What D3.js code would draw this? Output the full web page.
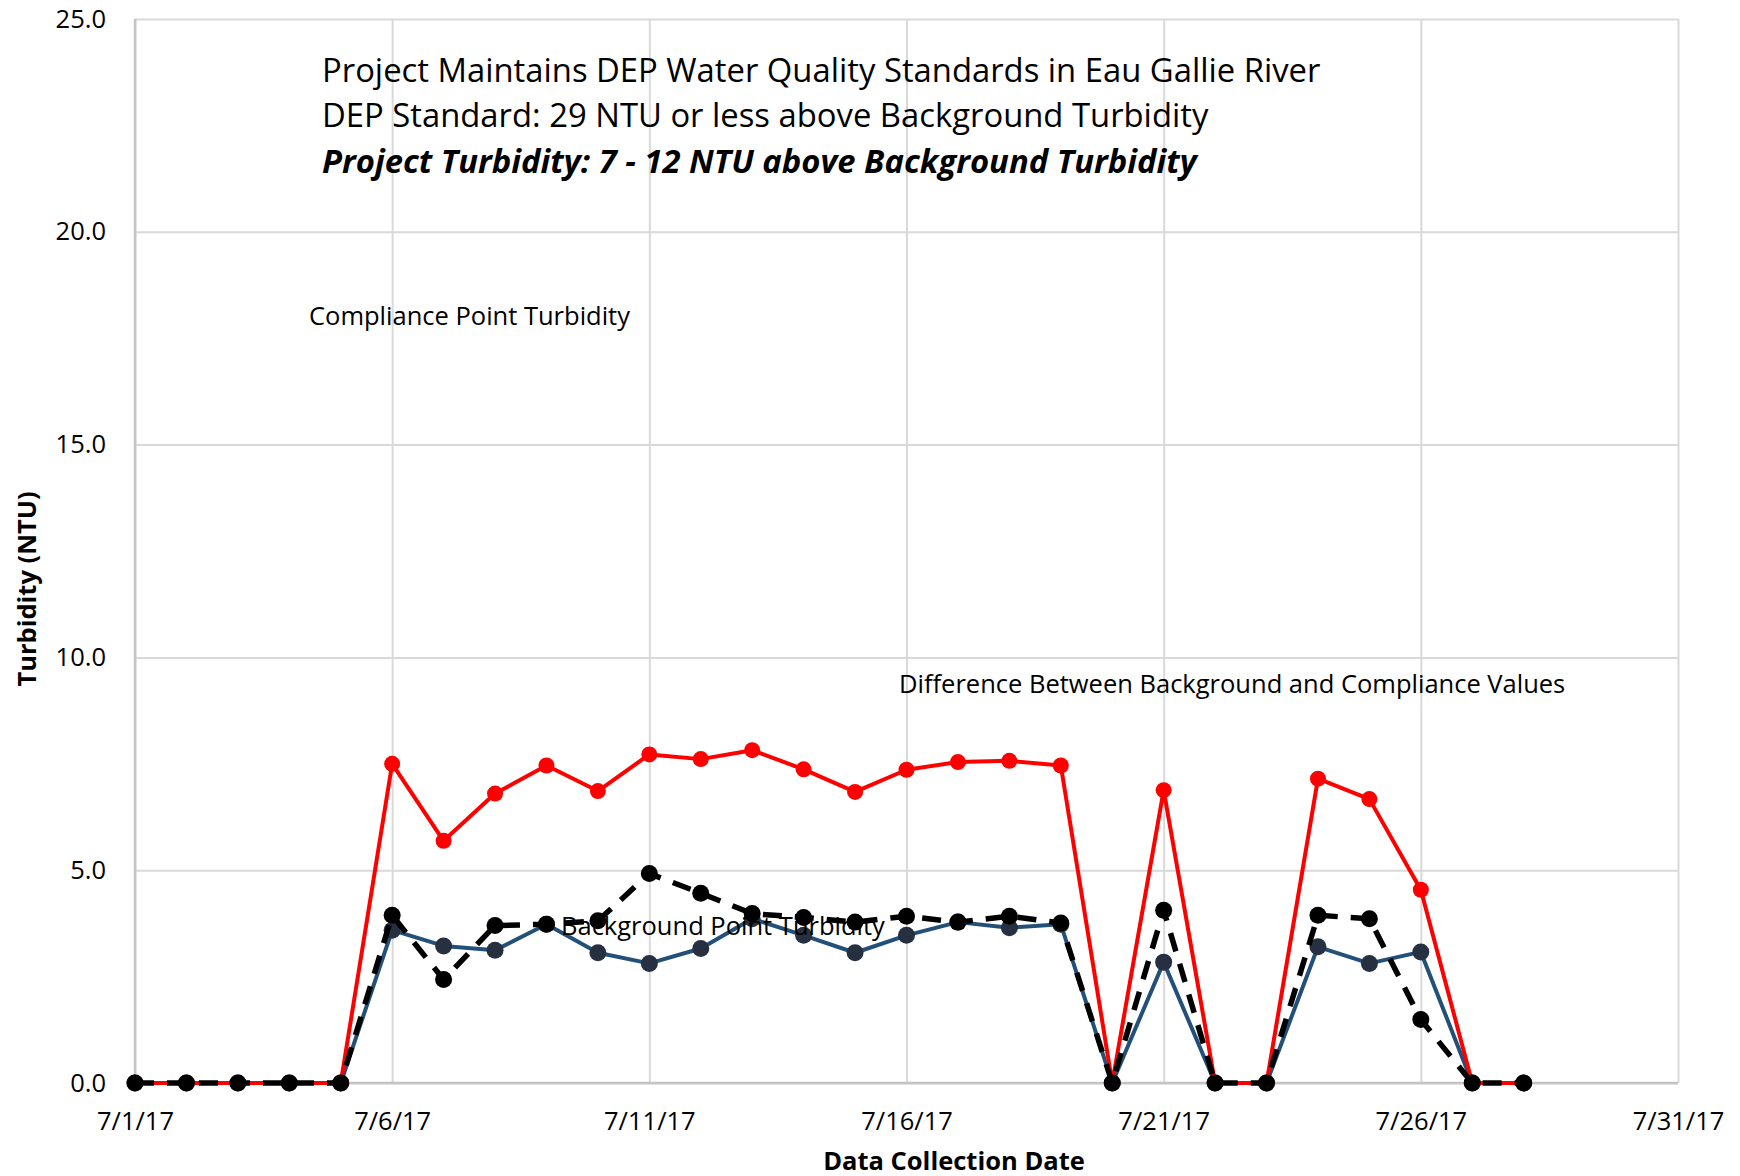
<!DOCTYPE html>
<meta charset="utf-8">
<body style="margin:0; background:#fff">
<script src="https://d3js.org/d3.v7.min.js"></script>
<div id="chart"></div>
<script>

 // sample dates (one per day)
 var dates = ["2017-07-01","2017-07-02","2017-07-03","2017-07-04","2017-07-05","2017-07-06","2017-07-07",
              "2017-07-08","2017-07-09","2017-07-10","2017-07-11","2017-07-12","2017-07-13","2017-07-14",
              "2017-07-15","2017-07-16","2017-07-17","2017-07-18","2017-07-19","2017-07-20","2017-07-21",
              "2017-07-22","2017-07-23","2017-07-24","2017-07-25","2017-07-26","2017-07-27","2017-07-28"];

 // red
 var compliance = [0,0,0,0,0,7.50,5.69,6.80,7.46,6.86,7.72,7.61,7.82,7.37,
                   6.84,7.36,7.54,7.57,7.46,0,6.88,0,0,7.15,6.67,4.54,0,0];
 // black dashed
 var background = [0,0,0,0,0,3.94,2.43,3.70,3.73,3.81,4.92,4.46,3.98,3.89,
                   3.78,3.92,3.78,3.92,3.76,0,4.06,0,0,3.94,3.86,1.49,0,0];
 // blue
 var difference = [0,0,0,0,0,3.59,3.22,3.12,3.73,3.06,2.81,3.16,3.86,3.47,
                   3.06,3.47,3.78,3.65,3.73,0,2.84,0,0,3.20,2.81,3.08,0,0];

 var yTicks = [0, 5, 10, 15, 20, 25];
 var xDomain = ["2017-07-01", "2017-07-31"];

 var titleLines = ["Project Maintains DEP Water Quality Standards in Eau Gallie River",
                   "DEP Standard: 29 NTU or less above Background Turbidity",
                   "Project Turbidity: 7 - 12 NTU above Background Turbidity"];

 var W = 1740, H = 1176;
 var margin = {top: 19, right: 62, bottom: 93, left: 135};
 var width = W - margin.left - margin.right;
 var height = H - margin.top - margin.bottom;
 var font = "'Open Sans', 'Noto Sans', sans-serif";

 var parse = d3.timeParse("%Y-%m-%d");

 var svg = d3.select("#chart").append("svg")
             .attr("width", W)
             .attr("height", H)
             .attr("font-family", font);

 var g = svg.append("g")
            .attr("transform", "translate(" + margin.left + "," + margin.top + ")");

 var x = d3.scaleTime()
           .domain(xDomain.map(parse))
           .range([0, width]);

 var y = d3.scaleLinear()
           .domain([0, 25])
           .range([height, 0]);

 // grid + tick labels
 var yAxis = g.append("g")
              .call(d3.axisLeft(y)
                      .tickValues(yTicks)
                      .tickFormat(d3.format(".1f"))
                      .tickSize(-width)
                      .tickPadding(29));

 var xAxis = g.append("g")
              .attr("transform", "translate(0," + height + ")")
              .call(d3.axisBottom(x)
                      .ticks(d3.timeDay.every(5))
                      .tickFormat(d3.timeFormat("%-m/%-d/%y"))
                      .tickSize(-height)
                      .tickPadding(28.5));

 [yAxis, xAxis].forEach(function(a) {
     a.select(".domain").remove();
     a.selectAll(".tick line").attr("stroke", "#d9d9d9").attr("stroke-width", 2);
     a.selectAll(".tick text")
      .attr("font-family", font)
      .attr("font-size", 25.5)
      .attr("fill", "#000");
 });

 // axis lines
 g.append("line")
  .attr("x1", 0).attr("x2", 0).attr("y1", 0).attr("y2", height)
  .attr("stroke", "#c4c4c4").attr("stroke-width", 2.5);
 g.append("line")
  .attr("x1", 0).attr("x2", width).attr("y1", height).attr("y2", height)
  .attr("stroke", "#c4c4c4").attr("stroke-width", 2.5);

 function toPoints(vals) {
     return vals.map(function(v, i) { return {date: parse(dates[i]), v: v}; });
 }

 var line = d3.line()
              .x(d => x(d.date))
              .y(d => y(d.v));

 var series = [
     {name: "Difference", vals: difference, stroke: "#235079", fill: "#263040", w: 4, dash: null, r: 8.5},
     {name: "Compliance", vals: compliance, stroke: "#ff0000", fill: "#ff0000", w: 4, dash: null, r: 8},
     {name: "Background", vals: background, stroke: "#000000", fill: "#000000", w: 5.5, dash: "19,13", r: 8.5}
 ];

 series.forEach(function(s) {
     var pts = toPoints(s.vals);
     var sg = g.append("g").attr("class", "series");
     sg.append("path")
       .datum(pts)
       .attr("fill", "none")
       .attr("stroke", s.stroke)
       .attr("stroke-width", s.w)
       .attr("stroke-dasharray", s.dash)
       .attr("stroke-linejoin", "round")
       .attr("d", line);
     sg.selectAll("circle")
       .data(pts)
       .enter()
       .append("circle")
       .attr("cx", d => x(d.date))
       .attr("cy", d => y(d.v))
       .attr("r", s.r)
       .attr("fill", s.fill);
 });

 // in-plot labels
 var labels = [
     {text: "Compliance Point Turbidity", x: 309, y: 325},
     {text: "Background Point Turbidity", x: 561, y: 935},
     {text: "Difference Between Background and Compliance Values", x: 899, y: 693}
 ];
 svg.selectAll(".lbl")
    .data(labels)
    .enter()
    .append("text")
    .attr("class", "lbl")
    .attr("x", d => d.x)
    .attr("y", d => d.y)
    .attr("font-size", 25.5)
    .attr("fill", "#000")
    .text(d => d.text);

 // title block
 svg.selectAll(".title")
    .data(titleLines)
    .enter()
    .append("text")
    .attr("class", "title")
    .attr("x", 322)
    .attr("y", (d, i) => [81.5, 127, 173][i])
    .attr("font-size", 32.8)
    .attr("font-weight", (d, i) => i == 2 ? "bold" : "normal")
    .attr("font-style", (d, i) => i == 2 ? "italic" : "normal")
    .attr("fill", "#000")
    .text(d => d);

 // axis titles
 svg.append("text")
    .attr("x", 954)
    .attr("y", 1170)
    .attr("text-anchor", "middle")
    .attr("font-size", 25.5)
    .attr("font-weight", "bold")
    .text("Data Collection Date");

 svg.append("text")
    .attr("transform", "translate(36,589) rotate(-90)")
    .attr("text-anchor", "middle")
    .attr("font-size", 25.5)
    .attr("font-weight", "bold")
    .text("Turbidity (NTU)");

</script>
